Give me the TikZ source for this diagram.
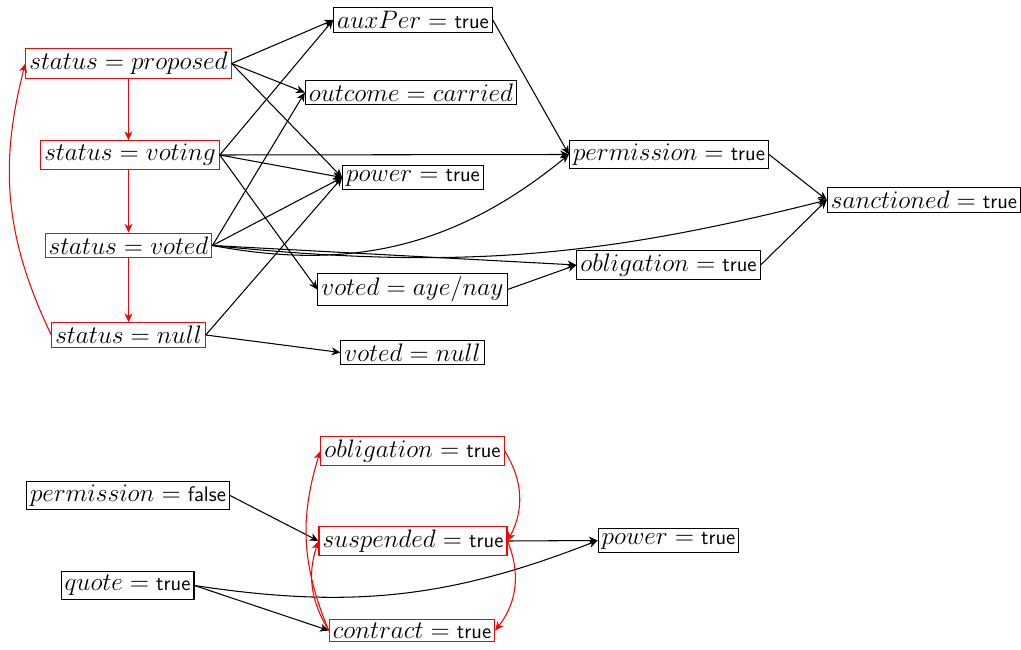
\documentclass[tikz,border=0pt]{standalone}
\usetikzlibrary{arrows.meta}
\newcommand{\val}[1]{\mbox{\large\textsf{#1}}}
\begin{document}
\begin{tikzpicture}[>={Stealth[length=5pt,width=4.5pt,inset=1.5pt]}, font=\Large,
   st/.style={draw=red, semithick, inner sep=2pt},
   fl/.style={draw, semithick, inner sep=2pt},
   re/.style={->, red, semithick},
   bl/.style={->, semithick}]
   \useasboundingbox (0,0) rectangle (20.42,-13);
   % Status chain
   \node[st] (S1) at (2.57,-1.27) {$status = proposed$};
   \node[st] (S2) at (2.6,-3.1) {$status = voting$};
   \node[st] (S3) at (2.57,-4.91) {$status = voted$};
   \node[st] (S4) at (2.57,-6.7) {$status = null$};
   \draw[re] (S1) -- (S1 |- S2.north);
   \draw[re] (S1 |- S2.south) -- (S3);
   \draw[re] (S3) -- (S4);
   \draw[re] (S4.west) to[bend left=20] (S1.west);

   % Fluents
   \node[fl] (A) at (8.26,-0.4) {$auxPer = \val{true}$};
   \node[fl] (O) at (8.22,-1.85) {$outcome = carried$};
   \node[fl] (P) at (8.26,-3.55) {$power = \val{true}$};
   \node[fl] (V1) at (8.25,-5.79) {$voted = aye/nay$};
   \node[fl] (V2) at (8.25,-7.05) {$voted = null$};
   \node[fl] (Pm) at (13.38,-3.09) {$permission = \val{true}$};
   \node[fl] (Ob) at (13.37,-5.3) {$obligation = \val{true}$};
   \node[fl] (Sa) at (18.48,-4.0) {$sanctioned = \val{true}$};

   \draw[bl] (S1.east) -- (A.west);
   \draw[bl] (S1.east) -- (O.west);
   \draw[bl] (S1.east) -- (P.west);
   \draw[bl] (S2.east) -- (A.west);
   \draw[bl] (S2.east) -- (Pm.west);
   \draw[bl] (S2.east) -- (P.west);
   \draw[bl] (S2.east) -- (V1.west);
   \draw[bl] (S3.east) -- (O.west);
   \draw[bl] (S3.east) -- (P.west);
   \draw[bl] (S3.east) to[bend right=25] (Pm.west);
   \draw[bl] (S3.east) to[bend right=10] (Sa.west);
   \draw[bl] (S3.east) -- (Ob.west);
   \draw[bl] (S4.east) -- (P.west);
   \draw[bl] (S4.east) -- (V2.west);
   \draw[bl] (A.east) -- (Pm.west);
   \draw[bl] (V1.east) -- (Ob.west);
   \draw[bl] (Pm.east) -- (Sa.west);
   \draw[bl] (Ob.east) -- (Sa.west);

   % Suspension
   \node[st] (B1) at (8.25,-9.02) {$obligation = \val{true}$};
   \node[st] (B2) at (8.26,-10.82) {$suspended = \val{true}$};
   \node[st] (B3) at (8.24,-12.61) {$contract = \val{true}$};
   \node[fl] (F1) at (2.56,-9.91) {$permission = \val{false}$};
   \node[fl] (F2) at (2.55,-11.71) {$quote = \val{true}$};
   \node[fl] (F3) at (13.37,-10.81) {$power = \val{true}$};

   \draw[bl] (F1.east) -- (B2.west);
   \draw[bl] (F2.east) -- (B3.west);
   \draw[bl] (F2.east) to[bend right=15] (F3.west);
   \draw[bl] (B2.east) -- (F3.west);
   \draw[re] (B1.east) to[bend left=30] (B2.east);
   \draw[re] (B2.east) to[bend left=30] (B3.east);
   \draw[re] (B3.west) to[bend left=20] (B1.west);
   \draw[re] (B3.west) to[bend left=25] (B2.west);
\end{tikzpicture}
\end{document}
